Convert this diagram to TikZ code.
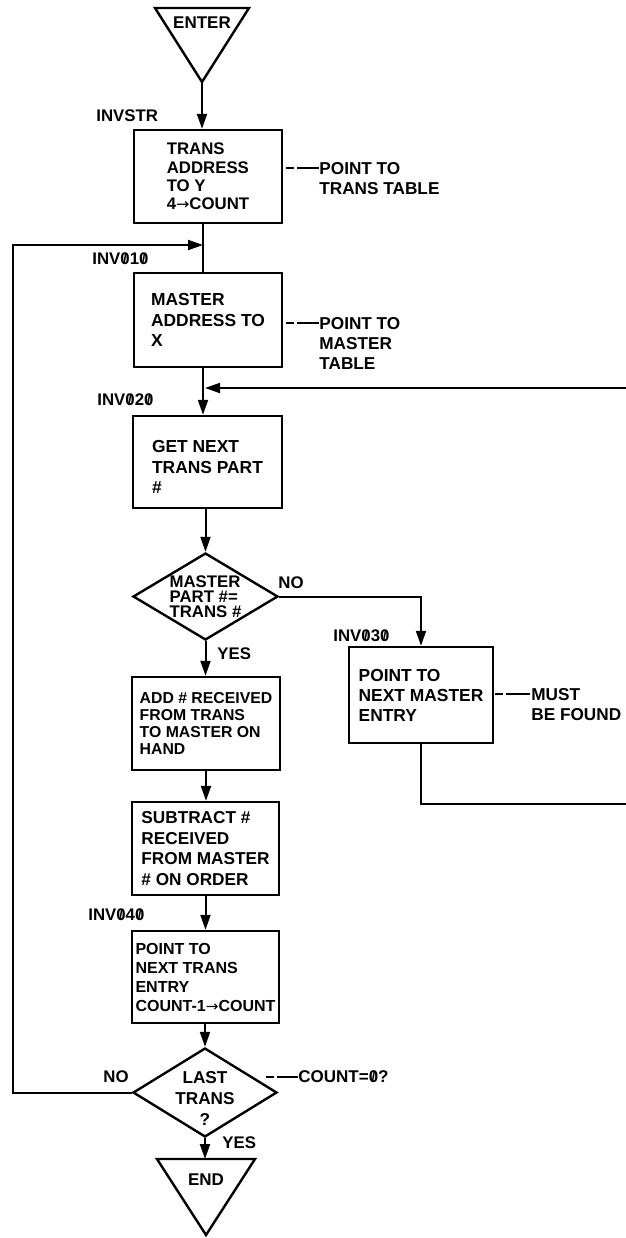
\documentclass[tikz,border=0pt]{standalone}
\usepackage{fontspec}
\setmainfont{Liberation Sans}
\newfontfamily\dvs{DejaVu Sans}
\usetikzlibrary{arrows.meta,shapes.geometric}
\newcommand\zs{\ooalign{0\cr\hidewidth\smash{\raisebox{0.06em}{\scalebox{0.8}{/}}}\hidewidth\cr}}
\newcommand\rarr{{\dvs\mdseries\scalebox{0.95}[0.9]{→}}}
\begin{document}
\begin{tikzpicture}[x=0.5pt,y=-0.5pt,
  ln/.style={line width=1pt},
  arr/.style={line width=1pt,-{Triangle[length=7.5pt,width=5pt]}},
  boxn/.style={draw,line width=1.2pt,rectangle,align=left,inner sep=0pt},
  dian/.style={draw,line width=1.2pt,diamond,inner sep=0pt},
  lbl/.style={inner sep=0pt,anchor=west,font=\bfseries\fontsize{8.4}{10}\selectfont},
  note/.style={inner sep=0pt,anchor=north west,align=left,font=\bfseries\fontsize{8.6}{10}\selectfont},
  lead/.style={line width=0.7pt,dash pattern=on 4pt off 1.5pt on 12pt},
  term/.style={draw,line width=1.2pt,line join=miter},
  ttext/.style={inner sep=0pt,font=\bfseries\fontsize{8.5}{10}\selectfont}
]
\useasboundingbox (0,0) rectangle (626,1238);

% terminals
\draw[term] (155,8) -- (249,8) -- (202,82) -- cycle;
\node[ttext] (enter) at (202,23) {ENTER};
\coordinate (entertip) at (202,82);

\draw[term] (157,1159) -- (255,1159) -- (206,1235) -- cycle;
\node[ttext] (endt) at (206,1180) {END};
\coordinate (endtop) at (206,1159);

% boxes
\node[boxn,minimum width=74pt,minimum height=46.5pt,font=\bfseries\fontsize{8.4}{9.2}\selectfont] (b1) at (208,176.5)
  {TRANS\\ADDRESS\\TO Y\\4\rarr COUNT};
\node[boxn,minimum width=74pt,minimum height=47pt,font=\bfseries\fontsize{8.7}{10.2}\selectfont] (b2) at (208,320)
  {MASTER\\ADDRESS TO\\X};
\node[boxn,minimum width=74.5pt,minimum height=46pt,font=\bfseries\fontsize{8.7}{10.4}\selectfont] (b3) at (207.5,462)
  {GET NEXT\rule{0pt}{11pt}\\TRANS PART\\\#};
\node[dian,minimum width=72.5pt,minimum height=43.5pt] (d1) at (205.5,596.5) {};
\node[inner sep=0pt,align=left,font=\bfseries\fontsize{8.4}{7.6}\selectfont] (d1t) at (205.5,597)
  {MASTER\\PART \#=\\TRANS \#};
\node[boxn,minimum width=74pt,minimum height=46.5pt,font=\bfseries\fontsize{7.9}{8.6}\selectfont] (b4) at (206,723.5)
  {ADD \# RECEIVED\\FROM TRANS\\TO MASTER ON\\HAND};
\node[boxn,minimum width=73.5pt,minimum height=46.5pt,font=\bfseries\fontsize{8.6}{10.3}\selectfont] (b5) at (205.5,848.5)
  {SUBTRACT \#\\RECEIVED\\FROM MASTER\\\# ON ORDER};
\node[boxn,minimum width=73.5pt,minimum height=46pt,font=\bfseries\fontsize{8}{9.5}\selectfont] (b6) at (205.5,977)
  {POINT TO\\NEXT TRANS\\ENTRY\\COUNT-1\rarr COUNT};
\node[dian,minimum width=72pt,minimum height=44.5pt] (d2) at (205,1092.5) {};
\node[inner sep=0pt,align=center,font=\bfseries\fontsize{8.6}{10.5}\selectfont] (d2t) at (205,1098)
  {LAST\\TRANS\\?};
\node[boxn,minimum width=72pt,minimum height=48pt,font=\bfseries\fontsize{8.7}{10}\selectfont] (b7) at (421,695)
  {POINT TO\\NEXT MASTER\\ENTRY};

% labels
\node[lbl] (linvstr) at (96,116) {INVSTR};
\node[lbl] (linv10) at (92,259) {INV\zs1\zs};
\node[lbl] (linv20) at (97,400) {INV\zs2\zs};
\node[lbl] (linv30) at (333,636) {INV\zs3\zs};
\node[lbl] (linv40) at (88,915) {INV\zs4\zs};
\node[lbl] (no1) at (278,583) {NO};
\node[lbl] (yes1) at (217,654) {YES};
\node[lbl] (no2) at (103,1077) {NO};
\node[lbl] (yes2) at (222,1143) {YES};

% notes
\node[note] (n1) at (319,162) {POINT TO\\TRANS TABLE};
\node[note] (n2) at (319,317) {POINT TO\\MASTER\\TABLE};
\node[note] (n3) at (531,688) {MUST\\BE FOUND};
\node[lbl,font=\bfseries\fontsize{8.5}{10}\selectfont] (n4) at (298,1077) {COUNT=\zs?};
\coordinate (l1) at (286,168);
\coordinate (l2) at (286,323);
\coordinate (l3) at (495,694);
\coordinate (l4) at (266,1077);
\draw[lead] (l1) -- (l1 -| n1.west);
\draw[lead] (l2) -- (l2 -| n2.west);
\draw[lead] (l3) -- (l3 -| n3.west);
\draw[lead] (l4) -- (l4 -| n4.west);

% connectors
\coordinate (sp) at (203,0);
\coordinate (j1) at (203,245);
\coordinate (j2) at (205,388);
\coordinate (lx) at (13,0);
\coordinate (rx) at (650,0);
\draw[arr] (entertip) -- (entertip |- b1.north);
\draw[ln] (b1.south -| sp) -- (b2.north -| sp);
\draw[arr] (d2.west) -| (lx |- j1) -- (j1);
\draw[arr] (b2.south -| sp) -- (b3.north -| sp);
\draw[arr] (b7.south) -- ++(0,60) -| (rx |- j2) -- (j2);
\draw[arr] (b3.south -| d1.north) -- (d1.north);
\draw[arr] (d1.east) -| (b7.north);
\draw[arr] (d1.south) -- (d1.south |- b4.north);
\draw[arr] (b4.south) -- (b4.south |- b5.north);
\draw[arr] (b5.south) -- (b5.south |- b6.north);
\draw[arr] (b6.south -| d2.north) -- (d2.north);
\draw[arr] (d2.south) -- (d2.south |- endtop);
\end{tikzpicture}
\end{document}
